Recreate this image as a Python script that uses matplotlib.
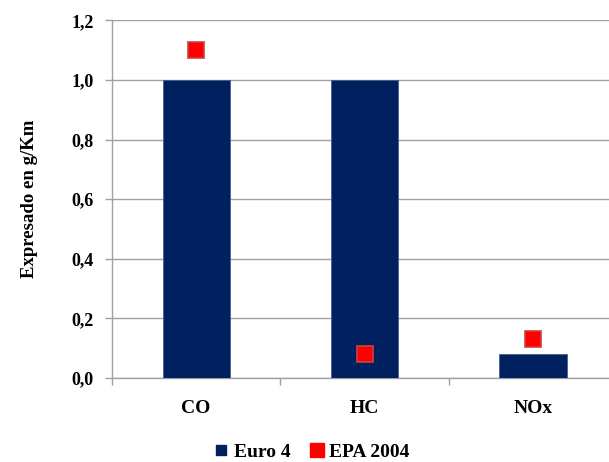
import numpy as np
import matplotlib.pyplot as plt
from matplotlib.lines import Line2D
from matplotlib.ticker import FixedLocator, FuncFormatter

categories = ['CO', 'HC', 'NOx']
euro4 = [1.0, 1.0, 0.08]
epa2004 = [1.1, 0.08, 0.13]

plt.rcParams['font.family'] = ['Liberation Serif', 'DejaVu Serif']
plt.rcParams['font.weight'] = 'bold'

fig = plt.figure(figsize=(6.09, 4.62), dpi=100)
ax = fig.add_axes([112 / 609, 84 / 462, 505 / 609, 357.6 / 462])

x = np.arange(len(categories))
ax.bar(x, euro4, width=0.4, color='#002060', edgecolor='#4a5f8a', linewidth=0.6,
       zorder=3)
ax.plot(x, epa2004, linestyle='none', marker='s', markersize=11,
        markerfacecolor='#ff0000', markeredgecolor='#d04040', markeredgewidth=1.2,
        zorder=4)

ax.set_xlim(-0.5, 2.5)
ax.set_ylim(0, 1.2)
ax.set_yticks(np.arange(0, 1.21, 0.2))
ax.yaxis.set_major_formatter(FuncFormatter(lambda v, p: f'{v:.1f}'.replace('.', ',')))
ax.set_xticks(x)
ax.set_xticklabels(categories, fontsize=14, fontweight='bold')
ax.xaxis.set_minor_locator(FixedLocator([-0.5, 0.5, 1.5, 2.5]))
ax.tick_params(axis='x', which='major', length=0, pad=16)
ax.tick_params(axis='x', which='minor', length=5, color='#a0a0a0', width=1)
ax.tick_params(axis='y', length=5, color='#a0a0a0', width=1, labelsize=13, pad=8)
for lab in ax.get_yticklabels():
    lab.set_fontweight('bold')

ax.grid(axis='y', color='#a0a0a0', linewidth=1, zorder=0)
ax.set_axisbelow(True)
for s in ['top', 'right']:
    ax.spines[s].set_visible(False)
for s in ['left', 'bottom']:
    ax.spines[s].set_color('#a0a0a0')
    ax.spines[s].set_linewidth(1)

ax.set_ylabel('Expresado en g/Km', fontsize=13.5, fontweight='bold', labelpad=24)

# legend keys: plain squares
handles = [Line2D([], [], linestyle='none', marker='s', markersize=7,
                  color='#002060'),
           Line2D([], [], linestyle='none', marker='s', markersize=10,
                  color='#ff0000')]
fig.legend(handles, ['Euro 4', 'EPA 2004'], loc='center',
           bbox_to_anchor=(312 / 609, 1 - 452 / 462), ncol=2,
           frameon=False, handlelength=0.7, handletextpad=0.3,
           columnspacing=1.0, prop={'weight': 'bold', 'size': 14})

fig.savefig('out.png', dpi=100)
